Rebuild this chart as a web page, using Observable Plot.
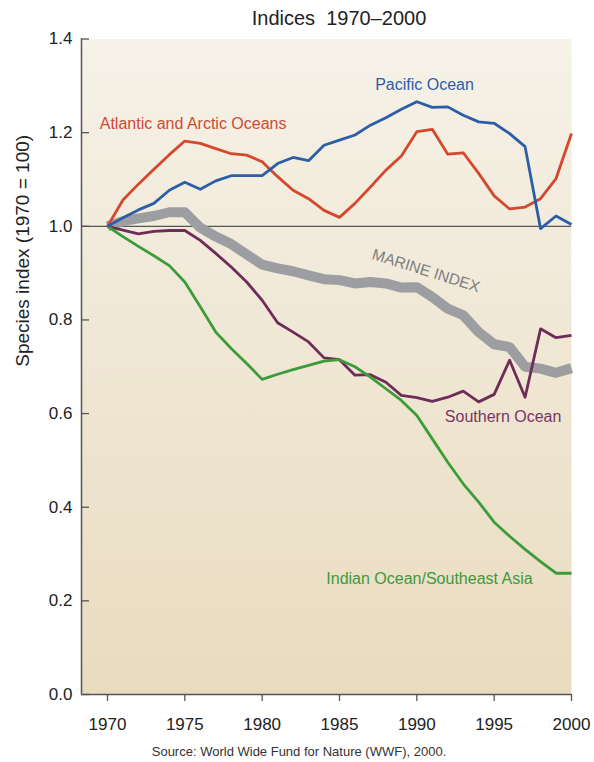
<!DOCTYPE html>
<html><head><meta charset="utf-8">
<script src="https://cdn.jsdelivr.net/npm/d3@7"></script>
<script src="https://cdn.jsdelivr.net/npm/@observablehq/plot@0.6"></script>
<style>
body{margin:0;background:#fff;font-family:"Liberation Sans",Arial,sans-serif;}
#title{height:30px;line-height:36px;font-size:20px;color:#222;text-align:center;padding-left:84px;width:594px;box-sizing:border-box;white-space:pre;overflow:visible}
#chart svg{display:block}
#caption{height:26px;line-height:32px;font-size:13px;color:#333;text-align:center;padding-left:4px;width:594px;box-sizing:border-box}
</style></head><body>
<div id="title">Indices  1970–2000</div>
<div id="chart"></div>
<div id="caption">Source: World Wide Fund for Nature (WWF), 2000.</div>
<script>
// ---- data ----
const years = [1970,1971,1972,1973,1974,1975,1976,1977,1978,1979,1980,1981,1982,1983,1984,1985,1986,1987,1988,1989,1990,1991,1992,1993,1994,1995,1996,1997,1998,1999,2000];
const pacific  = [1.000,1.018,1.035,1.049,1.077,1.094,1.079,1.097,1.108,1.108,1.108,1.134,1.147,1.140,1.173,1.184,1.195,1.216,1.232,1.250,1.266,1.254,1.255,1.237,1.223,1.220,1.198,1.170,0.995,1.022,1.004];
const atlantic = [1.000,1.056,1.090,1.122,1.153,1.182,1.177,1.166,1.155,1.152,1.138,1.106,1.077,1.059,1.034,1.019,1.049,1.084,1.120,1.150,1.202,1.207,1.154,1.157,1.113,1.065,1.037,1.041,1.059,1.102,1.198];
const marine   = [1.000,1.011,1.017,1.022,1.030,1.030,0.997,0.978,0.962,0.940,0.918,0.910,0.904,0.895,0.887,0.885,0.878,0.881,0.878,0.869,0.870,0.849,0.824,0.810,0.774,0.748,0.742,0.700,0.696,0.687,0.697];
const southern = [1.000,0.992,0.984,0.989,0.991,0.991,0.970,0.942,0.913,0.881,0.842,0.794,0.774,0.753,0.719,0.715,0.682,0.683,0.667,0.639,0.634,0.626,0.635,0.648,0.625,0.641,0.714,0.635,0.781,0.762,0.767];
const indian   = [1.000,0.978,0.957,0.937,0.916,0.881,0.828,0.774,0.739,0.707,0.673,0.684,0.694,0.703,0.712,0.715,0.700,0.678,0.653,0.628,0.596,0.546,0.496,0.450,0.411,0.368,0.338,0.310,0.284,0.259,0.259];
const seriesNames = ["Pacific Ocean","Atlantic and Arctic Oceans","MARINE INDEX","Southern Ocean","Indian Ocean/Southeast Asia"];
const xTicks = [1970,1975,1980,1985,1990,1995,2000];
const yTicks = [0,0.2,0.4,0.6,0.8,1.0,1.2,1.4];
const xDomain = [1968.32, 2000];
const yDomain = [0, 1.4];
const referenceValue = [1];
// label anchors (data space)
const labelYears  = [1990.50, 1969.50, 1990.59, 1995.58, 1990.82];
const labelValues = [1.302, 1.2185, 0.905, 0.5927, 0.2467];
const yTitle = "Species index (1970 = 100)";

// ---- build ----
const seriesValues = [pacific, atlantic, marine, southern, indian];
const lineColors  = ["#2c5ea8","#d4482d","#9c9ea2","#6e2c58","#3b9c3a"];
const labelColors = ["#2c5ea8","#cf4a33","#7c7d81","#7a3465","#3d9a3d"];
const rows = seriesValues.map(vals => years.map((year, i) => ({year, value: vals[i]})));
const drawOrder = [2, 3, 4, 1, 0];

const marks = [
  Plot.frame({fill: "url(#bgGrad)", stroke: null}),
  Plot.ruleY(referenceValue, {stroke: "#555", strokeWidth: 1.2})
];
for (const k of drawOrder) {
  marks.push(Plot.lineY(rows[k], {
    x: "year", y: "value", stroke: lineColors[k],
    strokeWidth: k === 2 ? 10 : 2.8, strokeLinejoin: "round", strokeLinecap: "butt"
  }));
}
seriesNames.forEach((name, k) => {
  marks.push(Plot.text([name], {
    x: () => labelYears[k], y: () => labelValues[k], text: d => d,
    fill: labelColors[k], fontSize: k === 2 ? 15.5 : 16,
    textAnchor: k === 1 ? "start" : "middle",
    rotate: k === 2 ? 17.5 : 0
  }));
});
marks.push(
  Plot.ruleX([xDomain[0]], {stroke: "#555", strokeWidth: 1.5}),
  Plot.ruleY([yDomain[0]], {stroke: "#555", strokeWidth: 1.5}),
  Plot.axisY(yTicks, {tickFormat: d => d.toFixed(1), tickSize: -8, tickPadding: 17, fontSize: 17, label: null, stroke: "#555", strokeWidth: 1.3, fill: "#222"}),
  Plot.axisX(xTicks, {tickFormat: d => String(d), tickSize: 7, tickPadding: 16, fontSize: 17, label: null, stroke: "#555", strokeWidth: 1.3, fill: "#222"}),
  Plot.text([yTitle], {frameAnchor: "left", rotate: -90, dx: -58.5, text: d => d, fontSize: 19, fill: "#222"})
);

const chart = Plot.plot({
  width: 594, height: 706,
  marginTop: 8.5, marginBottom: 42, marginLeft: 81, marginRight: 23,
  style: {fontFamily: "'Liberation Sans', Arial, sans-serif", color: "#222", background: "transparent", overflow: "visible"},
  x: {domain: xDomain},
  y: {domain: yDomain},
  marks
});
const ns = "http://www.w3.org/2000/svg";
const defs = document.createElementNS(ns, "defs");
defs.innerHTML = '<linearGradient id="bgGrad" x1="0" y1="0" x2="0" y2="1"><stop offset="0" stop-color="#f6f2e8"/><stop offset="1" stop-color="#e9dbbf"/></linearGradient>';
chart.insertBefore(defs, chart.firstChild);
document.getElementById("chart").appendChild(chart);
</script>
</body></html>
